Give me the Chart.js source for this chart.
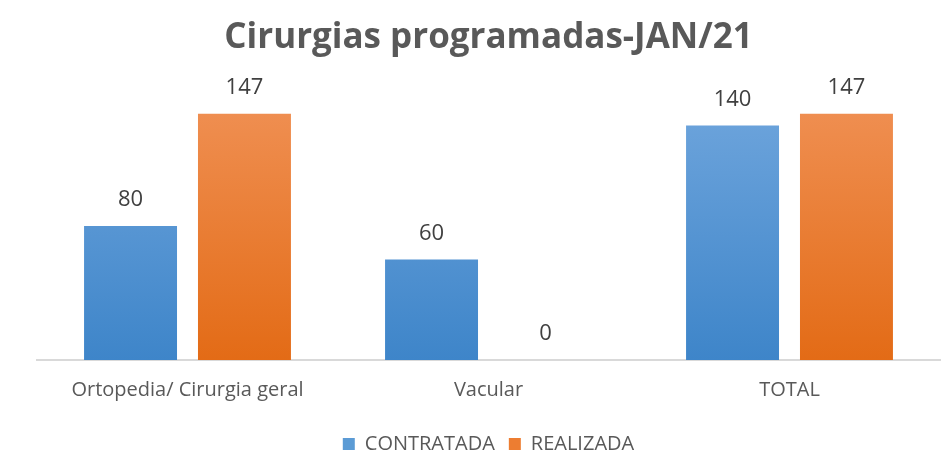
<!DOCTYPE html>
<html>
<head>
<meta charset="utf-8">
<script src="https://cdn.jsdelivr.net/npm/chart.js@4/dist/chart.umd.min.js"></script>
<style>
  html, body { margin: 0; padding: 0; background: #fff; }
  #wrap { width: 952px; height: 476px; position: relative; }
</style>
</head>
<body>
<div id="wrap"><canvas id="chart"></canvas></div>
<script>
const categories = ['Ortopedia/ Cirurgia geral', 'Vacular', 'TOTAL'];
const contratada = [80, 60, 140];
const realizada = [147, 0, 147];
const seriesNames = ['CONTRATADA', 'REALIZADA'];

document.addEventListener('DOMContentLoaded', function() {
    const ctx = document.getElementById('chart').getContext('2d');

    const makeGradient = (top, bottom) => (c) => {
        const area = c.chart.chartArea;
        if (!area) return bottom;
        const g = c.chart.ctx.createLinearGradient(0, area.top, 0, area.bottom);
        g.addColorStop(0, top);
        g.addColorStop(1, bottom);
        return g;
    };

    // value labels above each bar
    const valueLabels = {
        id: 'valueLabels',
        afterDatasetsDraw(chart) {
            const c = chart.ctx;
            c.save();
            c.font = '22px "Open Sans", sans-serif';
            c.fillStyle = '#404040';
            c.textAlign = 'center';
            c.textBaseline = 'middle';
            chart.data.datasets.forEach((ds, i) => {
                chart.getDatasetMeta(i).data.forEach((bar, j) => {
                    c.fillText(ds.data[j], bar.x, bar.y - 26);
                });
            });
            c.restore();
        }
    };

    new Chart(ctx, {
        type: 'bar',
        data: {
            labels: categories,
            datasets: [{
                label: seriesNames[0],
                data: contratada,
                backgroundColor: makeGradient('#70a6dd', '#3e85c9'),
                borderWidth: 0
            }, {
                label: seriesNames[1],
                data: realizada,
                backgroundColor: makeGradient('#f09155', '#e36b16'),
                borderWidth: 0
            }]
        },
        options: {
            responsive: true,
            maintainAspectRatio: false,
            animation: false,
            layout: { padding: { left: 37, right: 12, top: 6, bottom: 12 } },
            datasets: {
                bar: { categoryPercentage: 0.757, barPercentage: 0.816 }
            },
            scales: {
                x: {
                    grid: { display: false, drawTicks: false },
                    border: { display: true, color: '#d9d9d9', width: 2 },
                    ticks: {
                        color: '#595959',
                        font: { family: '"Open Sans", sans-serif', size: 20 },
                        padding: 18
                    }
                },
                y: {
                    display: false,
                    min: 0,
                    max: 160
                }
            },
            plugins: {
                title: {
                    display: true,
                    text: 'Cirurgias programadas-JAN/21',
                    color: '#595959',
                    font: { family: '"Open Sans", sans-serif', size: 35, weight: 'bold' },
                    padding: { top: 11, bottom: 33 }
                },
                legend: {
                    position: 'bottom',
                    labels: {
                        color: '#595959',
                        font: { family: '"Open Sans", sans-serif', size: 20 },
                        boxWidth: 12,
                        boxHeight: 12,
                        padding: 14,
                        generateLabels(chart) {
                            const colors = ['#5b9bd5', '#ed7d31'];
                            return chart.data.datasets.map((ds, i) => ({
                                text: ds.label,
                                fillStyle: colors[i],
                                strokeStyle: colors[i],
                                lineWidth: 0,
                                fontColor: '#595959',
                                datasetIndex: i
                            }));
                        }
                    }
                },
                tooltip: { enabled: false }
            }
        },
        plugins: [valueLabels]
    });
});
</script>
</body>
</html>
